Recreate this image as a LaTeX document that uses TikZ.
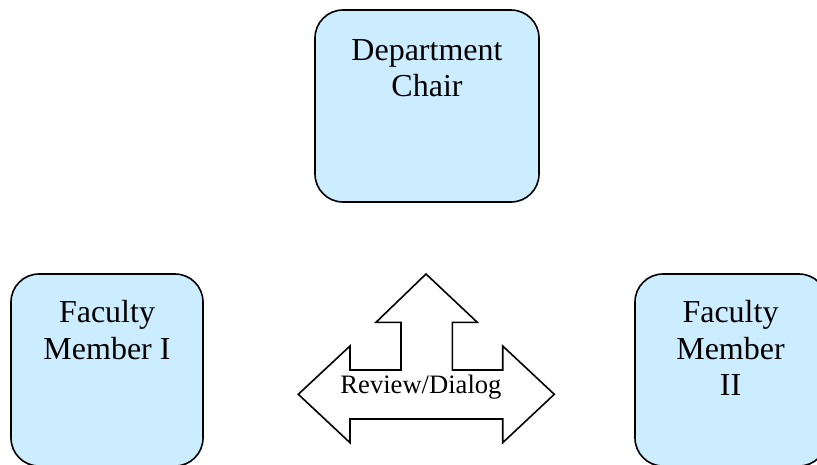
\documentclass[tikz,border=0pt]{standalone}
\usepackage{fontspec}
\setmainfont{Liberation Serif}
\definecolor{boxblue}{HTML}{CCECFF}
\tikzset{
  rbox/.style={draw=black, line width=1.6pt, fill=boxblue, rounded corners=28pt, inner sep=0pt},
  lbl/.style={inner sep=0pt, align=center, font=\fontsize{32}{36.5}\selectfont, anchor=north},
  arrowshape/.style={draw=black, line width=1.6pt, fill=white, line join=miter},
  arrowlbl/.style={inner sep=0pt, font=\fontsize{26.6}{30}\selectfont, anchor=base}
}
\begin{document}
\begin{tikzpicture}[x=1pt, y=-1pt]
\useasboundingbox (0,0) rectangle (817,464);
\clip (0,0) rectangle (817,464);
% boxes
\draw[rbox] (315,10) rectangle (539,202);
\coordinate (chairtop) at (427,39);
\node[lbl] (chair) at (chairtop) {Department\\Chair};
\draw[rbox] (11,274) rectangle (203,466);
\coordinate (f1top) at (107,300.5);
\node[lbl] (fac1) at (f1top) {Faculty\\Member I};
\draw[rbox] (635,274) rectangle (827,466);
\coordinate (f2top) at (730.5,300.5);
\node[lbl] (fac2) at (f2top) {Faculty\\Member\\II};
% three-way arrow
\draw[arrowshape] (426,274) -- (477.3,322.3) -- (452.3,322.3) -- (452.3,370)
  -- (502.7,370) -- (502.7,346) -- (554.3,394.3) -- (502.7,442.7) -- (502.7,419)
  -- (350,419) -- (350,442.7) -- (298.3,394.3) -- (350,346) -- (350,370)
  -- (401,370) -- (401,322.3) -- (376,322.3) -- cycle;
\coordinate (revbase) at (421,393);
\node[arrowlbl] (review) at (revbase) {Review/Dialog};
\end{tikzpicture}
\end{document}
